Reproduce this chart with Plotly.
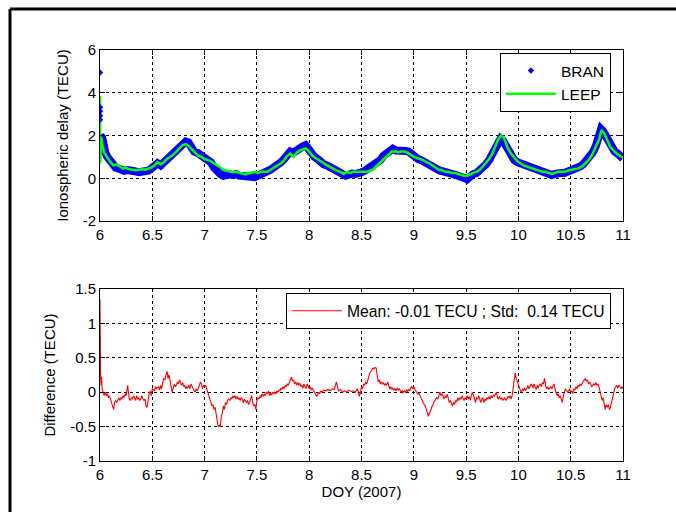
import plotly.graph_objects as go

# ---- Ionospheric delay, day of year 2007 ----
bran_points = [
    (6.000, 1.20), (6.005, 2.00), (6.012, 1.50), (6.020, 1.90), (6.030, 1.70), (6.040, 1.35),
    (6.050, 1.20), (6.070, 1.00), (6.090, 0.85), (6.110, 0.75), (6.130, 0.55), (6.150, 0.50),
    (6.180, 0.45), (6.200, 0.40), (6.230, 0.35), (6.260, 0.38), (6.300, 0.30), (6.330, 0.33),
    (6.370, 0.28), (6.400, 0.30), (6.430, 0.28), (6.460, 0.35), (6.490, 0.45), (6.520, 0.60),
    (6.550, 0.70), (6.580, 0.60), (6.610, 0.75), (6.640, 0.90), (6.670, 1.00), (6.700, 1.15),
    (6.730, 1.30), (6.760, 1.50), (6.790, 1.65), (6.820, 1.72), (6.845, 1.68), (6.870, 1.45),
    (6.900, 1.25), (6.930, 1.20), (6.960, 1.10), (7.000, 0.95), (7.030, 0.85), (7.060, 0.75),
    (7.090, 0.50), (7.120, 0.30), (7.150, 0.20), (7.180, 0.12), (7.210, 0.20), (7.240, 0.18),
    (7.270, 0.15), (7.300, 0.20), (7.330, 0.12), (7.360, 0.10), (7.390, 0.05), (7.420, 0.08),
    (7.450, 0.05), (7.480, 0.05), (7.500, 0.10), (7.530, 0.15), (7.560, 0.25), (7.600, 0.30),
    (7.630, 0.40), (7.660, 0.50), (7.700, 0.60), (7.730, 0.75), (7.760, 0.90), (7.790, 1.15),
    (7.820, 1.25), (7.850, 1.20), (7.880, 1.35), (7.910, 1.40), (7.940, 1.50), (7.965, 1.55),
    (7.990, 1.40), (8.020, 1.15), (8.050, 1.00), (8.080, 0.90), (8.110, 0.75), (8.140, 0.65),
    (8.170, 0.60), (8.200, 0.50), (8.230, 0.45), (8.260, 0.35), (8.290, 0.30), (8.320, 0.20),
    (8.350, 0.12), (8.380, 0.20), (8.410, 0.22), (8.440, 0.20), (8.470, 0.20), (8.500, 0.28),
    (8.530, 0.35), (8.560, 0.45), (8.590, 0.55), (8.620, 0.62), (8.650, 0.75), (8.680, 0.85),
    (8.710, 1.05), (8.740, 1.20), (8.770, 1.30), (8.800, 1.38), (8.830, 1.30), (8.860, 1.32),
    (8.890, 1.30), (8.920, 1.28), (8.950, 1.25), (8.980, 1.10), (9.010, 1.00), (9.040, 0.90),
    (9.070, 0.85), (9.100, 0.75), (9.130, 0.65), (9.160, 0.55), (9.190, 0.45), (9.220, 0.42),
    (9.250, 0.35), (9.280, 0.32), (9.310, 0.25), (9.340, 0.25), (9.370, 0.20), (9.400, 0.15),
    (9.430, 0.12), (9.460, 0.10), (9.490, 0.00), (9.510, -0.05), (9.540, 0.12), (9.570, 0.20),
    (9.600, 0.25), (9.630, 0.35), (9.660, 0.50), (9.690, 0.65), (9.720, 0.85), (9.750, 1.10),
    (9.780, 1.40), (9.810, 1.70), (9.830, 1.85), (9.855, 1.75), (9.880, 1.55), (9.900, 1.30),
    (9.930, 1.05), (9.960, 0.85), (9.990, 0.75), (10.020, 0.70), (10.050, 0.60), (10.080, 0.55),
    (10.110, 0.50), (10.140, 0.50), (10.170, 0.42), (10.200, 0.38), (10.230, 0.35), (10.260, 0.30),
    (10.290, 0.25), (10.320, 0.15), (10.350, 0.20), (10.380, 0.18), (10.410, 0.25), (10.440, 0.25),
    (10.470, 0.30), (10.500, 0.35), (10.530, 0.40), (10.560, 0.45), (10.590, 0.55), (10.620, 0.65),
    (10.650, 0.80), (10.680, 0.95), (10.710, 1.20), (10.740, 1.50), (10.770, 1.85), (10.790, 2.30),
    (10.810, 2.20), (10.830, 2.00), (10.850, 1.80), (10.870, 1.55), (10.890, 1.40), (10.920, 1.25),
    (10.950, 1.15), (10.980, 1.00), (11.000, 0.92),
]
bran_outliers_doy = [6.0, 6.0, 6.0, 6.0, 6.0]
bran_outliers_tecu = [4.95, 3.32, 3.13, 2.93, 2.74]

leep_points = [
    (6.000, 3.85), (6.003, 0.70), (6.008, 1.60), (6.015, 1.90), (6.025, 1.50), (6.040, 1.20),
    (6.060, 1.05), (6.080, 0.90), (6.100, 0.75), (6.130, 0.60), (6.160, 0.65), (6.190, 0.55),
    (6.220, 0.45), (6.250, 0.50), (6.280, 0.42), (6.310, 0.40), (6.340, 0.38), (6.370, 0.40),
    (6.400, 0.42), (6.430, 0.40), (6.460, 0.45), (6.490, 0.50), (6.520, 0.60), (6.550, 0.75),
    (6.580, 0.65), (6.610, 0.75), (6.640, 0.90), (6.670, 1.00), (6.700, 1.10), (6.730, 1.25),
    (6.760, 1.40), (6.790, 1.55), (6.820, 1.60), (6.850, 1.50), (6.880, 1.35), (6.910, 1.20),
    (6.940, 1.05), (6.970, 1.00), (7.000, 0.90), (7.030, 0.85), (7.060, 0.80), (7.090, 0.70),
    (7.120, 0.60), (7.150, 0.50), (7.180, 0.40), (7.210, 0.35), (7.240, 0.30), (7.270, 0.28),
    (7.300, 0.30), (7.330, 0.25), (7.360, 0.20), (7.390, 0.18), (7.420, 0.22), (7.450, 0.25),
    (7.480, 0.30), (7.510, 0.25), (7.540, 0.30), (7.570, 0.30), (7.600, 0.30), (7.630, 0.40),
    (7.660, 0.50), (7.700, 0.60), (7.730, 0.70), (7.760, 0.85), (7.790, 1.05), (7.820, 1.15),
    (7.850, 1.00), (7.880, 1.20), (7.910, 1.30), (7.940, 1.35), (7.970, 1.40), (8.000, 1.25),
    (8.030, 1.05), (8.060, 0.95), (8.090, 0.85), (8.120, 0.75), (8.150, 0.65), (8.180, 0.58),
    (8.210, 0.50), (8.240, 0.42), (8.270, 0.35), (8.300, 0.30), (8.330, 0.20), (8.360, 0.30),
    (8.390, 0.25), (8.420, 0.30), (8.450, 0.30), (8.500, 0.30), (8.550, 0.30), (8.580, 0.35),
    (8.610, 0.40), (8.640, 0.55), (8.670, 0.70), (8.700, 0.85), (8.730, 1.00), (8.760, 1.15),
    (8.790, 1.25), (8.820, 1.25), (8.850, 1.22), (8.880, 1.25), (8.910, 1.25), (8.940, 1.20),
    (8.970, 1.10), (9.000, 1.00), (9.030, 0.95), (9.060, 0.90), (9.090, 0.85), (9.120, 0.75),
    (9.150, 0.70), (9.180, 0.60), (9.210, 0.50), (9.240, 0.40), (9.270, 0.38), (9.300, 0.30),
    (9.330, 0.30), (9.360, 0.25), (9.390, 0.25), (9.420, 0.20), (9.450, 0.15), (9.480, 0.12),
    (9.510, 0.12), (9.540, 0.20), (9.570, 0.25), (9.600, 0.30), (9.630, 0.40), (9.660, 0.55),
    (9.690, 0.70), (9.720, 0.90), (9.750, 1.15), (9.780, 1.50), (9.810, 1.85), (9.835, 2.00),
    (9.860, 1.90), (9.880, 1.65), (9.900, 1.40), (9.930, 1.15), (9.960, 0.95), (9.990, 0.80),
    (10.020, 0.70), (10.050, 0.60), (10.080, 0.55), (10.110, 0.50), (10.140, 0.45), (10.170, 0.40),
    (10.200, 0.35), (10.230, 0.30), (10.260, 0.30), (10.290, 0.25), (10.320, 0.20), (10.350, 0.25),
    (10.380, 0.30), (10.410, 0.30), (10.440, 0.30), (10.470, 0.35), (10.500, 0.40), (10.530, 0.42),
    (10.560, 0.45), (10.590, 0.50), (10.620, 0.60), (10.650, 0.75), (10.680, 0.90), (10.710, 1.15),
    (10.740, 1.45), (10.770, 1.80), (10.795, 2.25), (10.820, 2.10), (10.840, 1.90), (10.860, 1.70),
    (10.880, 1.45), (10.910, 1.30), (10.940, 1.15), (10.970, 1.05), (11.000, 0.95),
]

# ---- BRAN - LEEP difference ----
diff_points = [
    (6.000, 1.35), (6.002, 0.25), (6.006, 0.20), (6.010, 0.10), (6.015, 0.22), (6.020, 0.05),
    (6.030, 0.00), (6.040, -0.05), (6.050, 0.00), (6.060, -0.05), (6.070, -0.02), (6.080, -0.08),
    (6.090, -0.05), (6.100, -0.10), (6.110, -0.15), (6.120, -0.20), (6.130, -0.25), (6.140, -0.15),
    (6.150, -0.12), (6.160, -0.15), (6.170, -0.10), (6.180, -0.08), (6.190, -0.12), (6.200, -0.08),
    (6.210, -0.10), (6.220, -0.05), (6.230, -0.08), (6.240, -0.02), (6.250, -0.05), (6.260, 0.05),
    (6.265, 0.10), (6.270, 0.02), (6.280, -0.10), (6.290, -0.12), (6.300, -0.08), (6.310, -0.10),
    (6.320, -0.05), (6.330, -0.08), (6.340, -0.12), (6.350, -0.05), (6.360, -0.10), (6.370, -0.08),
    (6.380, -0.12), (6.390, -0.10), (6.400, -0.05), (6.410, -0.10), (6.420, -0.12), (6.430, -0.10),
    (6.440, -0.20), (6.450, -0.22), (6.460, -0.10), (6.470, -0.02), (6.480, 0.02), (6.490, -0.05),
    (6.500, 0.05), (6.520, 0.02), (6.530, 0.08), (6.540, 0.05), (6.560, 0.08), (6.570, 0.03),
    (6.580, 0.10), (6.590, 0.05), (6.600, 0.15), (6.610, 0.20), (6.620, 0.18), (6.630, 0.25),
    (6.640, 0.30), (6.645, 0.28), (6.650, 0.20), (6.660, 0.25), (6.670, 0.12), (6.680, 0.08),
    (6.690, 0.00), (6.700, 0.05), (6.710, 0.12), (6.720, 0.08), (6.730, 0.10), (6.740, 0.15),
    (6.750, 0.12), (6.760, 0.18), (6.770, 0.12), (6.780, 0.10), (6.790, 0.14), (6.800, 0.08),
    (6.810, 0.10), (6.820, 0.05), (6.830, 0.08), (6.840, 0.06), (6.850, 0.10), (6.860, 0.05),
    (6.870, 0.12), (6.880, 0.08), (6.890, 0.05), (6.900, 0.02), (6.910, 0.00), (6.920, 0.05),
    (6.930, 0.02), (6.940, 0.08), (6.950, 0.10), (6.960, 0.15), (6.970, 0.12), (6.980, 0.05),
    (6.990, 0.10), (7.000, 0.08), (7.010, 0.10), (7.020, 0.05), (7.030, -0.02), (7.040, -0.05),
    (7.050, -0.10), (7.060, -0.15), (7.070, -0.20), (7.080, -0.18), (7.090, -0.25), (7.100, -0.22),
    (7.110, -0.30), (7.120, -0.40), (7.130, -0.50), (7.140, -0.48), (7.150, -0.50), (7.160, -0.35),
    (7.170, -0.30), (7.180, -0.20), (7.190, -0.25), (7.200, -0.15), (7.210, -0.18), (7.220, -0.12),
    (7.230, -0.10), (7.240, -0.12), (7.250, -0.08), (7.260, -0.10), (7.270, -0.05), (7.280, -0.08),
    (7.290, -0.05), (7.300, -0.10), (7.310, -0.06), (7.320, -0.10), (7.330, -0.08), (7.340, -0.12),
    (7.350, -0.08), (7.360, -0.10), (7.370, -0.15), (7.380, -0.10), (7.390, -0.12), (7.400, -0.15),
    (7.410, -0.12), (7.420, -0.18), (7.430, -0.15), (7.440, -0.10), (7.450, -0.05), (7.460, -0.15),
    (7.470, -0.20), (7.480, -0.18), (7.490, -0.25), (7.500, -0.12), (7.510, -0.08), (7.520, -0.10),
    (7.530, -0.05), (7.540, -0.08), (7.550, -0.02), (7.560, -0.06), (7.570, -0.03), (7.580, -0.05),
    (7.590, 0.00), (7.600, -0.02), (7.610, 0.02), (7.620, -0.05), (7.630, -0.02), (7.640, -0.04),
    (7.650, 0.00), (7.660, -0.02), (7.670, 0.00), (7.680, -0.03), (7.690, 0.02), (7.700, 0.00),
    (7.710, 0.03), (7.720, 0.02), (7.730, 0.06), (7.740, 0.04), (7.750, 0.08), (7.760, 0.05),
    (7.770, 0.10), (7.780, 0.08), (7.790, 0.12), (7.800, 0.10), (7.810, 0.15), (7.820, 0.20),
    (7.830, 0.22), (7.840, 0.16), (7.850, 0.18), (7.860, 0.12), (7.870, 0.15), (7.880, 0.10),
    (7.890, 0.14), (7.900, 0.10), (7.910, 0.13), (7.920, 0.08), (7.930, 0.10), (7.940, 0.06),
    (7.950, 0.12), (7.960, 0.08), (7.970, 0.05), (7.980, 0.12), (7.990, 0.08), (8.000, 0.05),
    (8.010, 0.08), (8.020, 0.03), (8.030, 0.06), (8.040, 0.02), (8.050, 0.00), (8.060, -0.02),
    (8.070, -0.06), (8.080, -0.04), (8.090, 0.00), (8.100, -0.02), (8.110, 0.02), (8.120, 0.00),
    (8.140, 0.03), (8.160, 0.02), (8.180, 0.04), (8.200, 0.02), (8.220, 0.05), (8.240, 0.04),
    (8.250, 0.10), (8.260, 0.15), (8.270, 0.08), (8.280, 0.02), (8.300, 0.04), (8.320, 0.00),
    (8.340, 0.02), (8.360, 0.00), (8.380, 0.03), (8.400, 0.01), (8.420, 0.02), (8.440, 0.00),
    (8.460, 0.05), (8.470, -0.02), (8.480, -0.06), (8.490, 0.00), (8.500, 0.08), (8.510, 0.05),
    (8.520, 0.12), (8.530, 0.10), (8.540, 0.15), (8.550, 0.12), (8.560, 0.18), (8.570, 0.25),
    (8.580, 0.28), (8.590, 0.30), (8.600, 0.33), (8.610, 0.35), (8.620, 0.34), (8.630, 0.36),
    (8.640, 0.35), (8.650, 0.25), (8.660, 0.15), (8.670, 0.18), (8.680, 0.12), (8.690, 0.15),
    (8.700, 0.12), (8.710, 0.14), (8.720, 0.10), (8.730, 0.12), (8.740, 0.10), (8.750, 0.15),
    (8.760, 0.10), (8.770, 0.05), (8.780, 0.08), (8.790, 0.04), (8.800, 0.06), (8.810, 0.03),
    (8.820, 0.05), (8.830, 0.02), (8.840, 0.06), (8.850, 0.03), (8.860, 0.05), (8.870, 0.02),
    (8.880, 0.00), (8.890, 0.02), (8.900, 0.00), (8.910, 0.02), (8.920, 0.00), (8.930, 0.03),
    (8.940, 0.01), (8.950, 0.04), (8.960, 0.02), (8.970, 0.06), (8.980, 0.08), (8.990, 0.05),
    (9.000, 0.08), (9.010, 0.04), (9.020, 0.02), (9.030, 0.00), (9.040, -0.03), (9.050, -0.02),
    (9.060, -0.06), (9.070, -0.10), (9.080, -0.12), (9.090, -0.15), (9.100, -0.18), (9.110, -0.20),
    (9.120, -0.25), (9.130, -0.30), (9.140, -0.35), (9.150, -0.30), (9.160, -0.28), (9.170, -0.22),
    (9.180, -0.20), (9.190, -0.15), (9.200, -0.12), (9.210, -0.10), (9.220, -0.08), (9.230, -0.10),
    (9.240, -0.05), (9.250, 0.00), (9.260, -0.05), (9.270, -0.02), (9.280, -0.06), (9.290, -0.10),
    (9.300, -0.05), (9.310, -0.08), (9.320, -0.03), (9.330, -0.10), (9.340, -0.15), (9.350, -0.12),
    (9.360, -0.18), (9.370, -0.20), (9.380, -0.15), (9.390, -0.18), (9.400, -0.12), (9.410, -0.14),
    (9.420, -0.08), (9.430, -0.12), (9.440, -0.08), (9.450, -0.10), (9.460, -0.05), (9.470, -0.08),
    (9.480, -0.12), (9.490, -0.08), (9.500, -0.10), (9.510, -0.05), (9.520, -0.10), (9.530, -0.06),
    (9.540, -0.12), (9.550, -0.05), (9.560, 0.00), (9.570, -0.04), (9.580, -0.10), (9.590, -0.15),
    (9.600, -0.08), (9.610, -0.10), (9.620, -0.05), (9.630, -0.12), (9.640, -0.15), (9.650, -0.10),
    (9.660, -0.08), (9.670, -0.15), (9.680, -0.10), (9.690, -0.12), (9.700, -0.08), (9.710, -0.10),
    (9.720, -0.06), (9.730, -0.10), (9.740, -0.05), (9.750, -0.08), (9.760, -0.04), (9.770, -0.06),
    (9.780, -0.02), (9.790, 0.00), (9.800, -0.08), (9.810, -0.10), (9.820, -0.06), (9.830, -0.10),
    (9.840, -0.08), (9.850, -0.12), (9.860, -0.10), (9.870, -0.08), (9.880, -0.12), (9.890, -0.10),
    (9.900, -0.06), (9.910, -0.08), (9.920, -0.05), (9.930, -0.10), (9.940, -0.05), (9.950, 0.05),
    (9.960, 0.15), (9.970, 0.28), (9.980, 0.20), (9.990, 0.15), (10.000, 0.10), (10.010, 0.05),
    (10.020, 0.02), (10.030, 0.00), (10.040, 0.05), (10.050, 0.02), (10.060, 0.06), (10.070, 0.03),
    (10.080, 0.05), (10.090, 0.10), (10.100, 0.05), (10.110, 0.08), (10.120, 0.12), (10.130, 0.10),
    (10.140, 0.06), (10.150, 0.12), (10.160, 0.08), (10.170, 0.04), (10.180, 0.10), (10.190, 0.06),
    (10.200, 0.10), (10.210, 0.12), (10.220, 0.08), (10.230, 0.14), (10.240, 0.12), (10.250, 0.20),
    (10.260, 0.10), (10.270, 0.05), (10.280, 0.08), (10.290, 0.04), (10.300, 0.06), (10.310, 0.08),
    (10.320, 0.05), (10.330, 0.10), (10.340, 0.12), (10.350, 0.05), (10.360, 0.00), (10.370, -0.05),
    (10.380, -0.02), (10.390, -0.08), (10.400, -0.05), (10.410, -0.10), (10.420, -0.15), (10.430, -0.05),
    (10.440, 0.00), (10.450, 0.05), (10.460, 0.02), (10.470, 0.00), (10.480, 0.02), (10.490, 0.05),
    (10.500, 0.00), (10.510, 0.02), (10.520, -0.02), (10.530, 0.05), (10.540, 0.03), (10.550, 0.08),
    (10.560, 0.05), (10.570, 0.10), (10.580, 0.08), (10.590, 0.12), (10.600, 0.10), (10.610, 0.14),
    (10.620, 0.16), (10.630, 0.18), (10.640, 0.20), (10.650, 0.16), (10.660, 0.18), (10.670, 0.12),
    (10.680, 0.15), (10.690, 0.12), (10.700, 0.08), (10.710, 0.10), (10.720, 0.12), (10.730, 0.10),
    (10.740, 0.14), (10.750, 0.10), (10.760, 0.12), (10.770, 0.08), (10.780, 0.02), (10.790, -0.05),
    (10.800, -0.12), (10.810, -0.08), (10.820, -0.20), (10.830, -0.25), (10.840, -0.18), (10.850, -0.22),
    (10.860, -0.18), (10.870, -0.25), (10.880, -0.22), (10.890, -0.15), (10.900, -0.05), (10.910, 0.00),
    (10.920, 0.05), (10.930, 0.08), (10.940, 0.10), (10.950, 0.06), (10.960, 0.10), (10.970, 0.08),
    (10.980, 0.05), (10.990, 0.08), (11.000, 0.05),
]

bran_doy, bran_tecu = map(list, zip(*bran_points))
leep_doy, leep_tecu = map(list, zip(*leep_points))
diff_doy, diff_tecu = map(list, zip(*diff_points))

doy_ticks = [6, 6.5, 7, 7.5, 8, 8.5, 9, 9.5, 10, 10.5, 11]
doy_labels = ["6", "6.5", "7", "7.5", "8", "8.5", "9", "9.5", "10", "10.5", "11"]
delay_ticks = [-2, 0, 2, 4, 6]
delay_labels = ["-2", "0", "2", "4", "6"]
diff_ticks = [-1, -0.5, 0, 0.5, 1, 1.5]
diff_labels = ["-1", "-0.5", "0", "0.5", "1", "1.5"]
diff_legend = "Mean: -0.01 TECU ; Std:  0.14 TECU"

FONT = "Liberation Sans, Arial, sans-serif"

fig = go.Figure()

# BRAN: dense dots rendered as a thick blue band
fig.add_trace(go.Scatter(
    x=bran_doy, y=bran_tecu, mode="lines", line=dict(color="#0000ff", width=8),
    showlegend=False, legendgroup="bran", xaxis="x", yaxis="y", hoverinfo="skip"))
fig.add_trace(go.Scatter(
    x=leep_doy, y=leep_tecu, mode="lines", name="LEEP", legendrank=2,
    line=dict(color="#00ff00", width=2.5), xaxis="x", yaxis="y"))
fig.add_trace(go.Scatter(
    x=bran_outliers_doy, y=bran_outliers_tecu, mode="markers", name="BRAN", legendrank=1,
    legendgroup="bran", marker=dict(color="#0000ff", size=5, symbol="diamond"),
    xaxis="x", yaxis="y"))
fig.add_trace(go.Scatter(
    x=diff_doy, y=diff_tecu, mode="lines", name=diff_legend, legend="legend2",
    line=dict(color="#ff0000", width=1.1), xaxis="x2", yaxis="y2"))

grid = dict(showgrid=True, gridcolor="#000000", gridwidth=1, griddash="3px,3px",
            zeroline=False, showline=True, linecolor="#000000", linewidth=1,
            ticks="inside", ticklen=5, tickcolor="#000000",
            tickfont=dict(family=FONT, size=15, color="#000000"))

top_dom = [0.5839, 1.0]
bot_dom = [0.0, 0.4185]

fig.update_layout(
    width=676, height=512,
    margin=dict(l=100, r=53, t=50, b=51),
    paper_bgcolor="#ffffff", plot_bgcolor="#ffffff",
    font=dict(family=FONT, size=15, color="#000000"),
    xaxis=dict(domain=[0, 1], range=[6, 11], tickvals=doy_ticks, ticktext=doy_labels,
               anchor="y", mirror="ticks", **grid),
    yaxis=dict(domain=top_dom, range=[-2, 6], tickvals=delay_ticks, ticktext=delay_labels,
               anchor="x", mirror="ticks",
               title=dict(text="Ionospheric delay (TECU)", standoff=10,
                          font=dict(family=FONT, size=15)), **grid),
    xaxis2=dict(domain=[0, 1], range=[6, 11], tickvals=doy_ticks, ticktext=doy_labels,
                anchor="y2", mirror=True,
                title=dict(text="DOY (2007)", standoff=4, font=dict(family=FONT, size=15)),
                **grid),
    yaxis2=dict(domain=bot_dom, range=[-1, 1.5], tickvals=diff_ticks, ticktext=diff_labels,
                anchor="x2", mirror=True,
                title=dict(text="Difference (TECU)", standoff=10,
                           font=dict(family=FONT, size=15)), **grid),
    legend=dict(x=0.977, xanchor="right", y=0.9927, yanchor="top",
                bgcolor="#ffffff", bordercolor="#000000", borderwidth=1,
                font=dict(family=FONT, size=15.5), itemwidth=50, tracegroupgap=0),
    legend2=dict(x=0.977, xanchor="right", y=0.4088, yanchor="top",
                 bgcolor="#ffffff", bordercolor="#000000", borderwidth=1,
                 font=dict(family=FONT, size=15.7), itemwidth=50),
    shapes=[
        dict(type="line", xref="paper", yref="paper", x0=-0.1721, x1=1.2, y0=1.0998, y1=1.0998,
             line=dict(color="#000000", width=3)),
        dict(type="line", xref="paper", yref="paper", x0=-0.1721, x1=-0.1721, y0=1.0998, y1=-0.2,
             line=dict(color="#000000", width=3)),
    ],
)

fig.write_html("out.html")
